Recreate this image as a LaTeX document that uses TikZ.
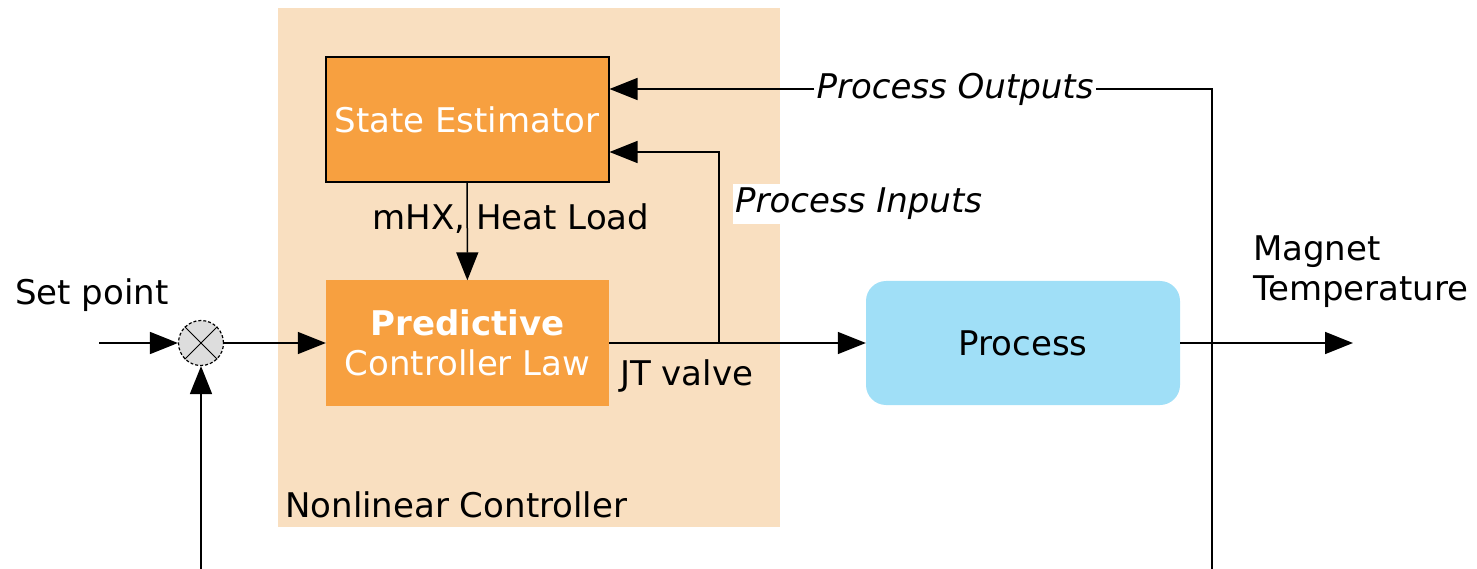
\documentclass[tikz,border=0pt]{standalone}
\usepackage{fontspec}
\setmainfont{DejaVu Sans}
\usetikzlibrary{arrows.meta,calc}
\definecolor{peach}{RGB}{249,223,192}
\definecolor{orng}{RGB}{247,160,64}
\definecolor{lblue}{RGB}{160,223,247}
\definecolor{jgray}{RGB}{221,221,221}
\newcommand{\dfont}{\fontsize{34}{40}\selectfont}
\begin{document}
\begin{tikzpicture}[x=1pt,y=-1pt,
  every node/.style={font=\dfont, inner sep=0pt},
  arr/.style={-{Triangle[length=28pt,width=22pt]}, line width=1.5pt},
  ln/.style={line width=1.5pt},
  blk/.style={fill=orng, text=white, minimum width=283pt, minimum height=125pt, align=center},
  itl/.style={font=\dfont\itshape},
]
\useasboundingbox (0,0) rectangle (1477,569);
% controller background
\fill[peach] (278,8) rectangle (780,527);
\node[anchor=west] (nlc) at (285,505) {Nonlinear Controller};
% blocks
\node[blk, draw=black, line width=2pt] (se) at (467,119.5) {State Estimator};
\node[blk] (pc) at (467.5,343) {\textbf{Predictive}\\Controller Law};
\node[fill=lblue, rounded corners=20pt, minimum width=314pt, minimum height=124pt] (proc) at (1023,343) {Process};
% summing junction
\node[circle, draw=black, fill=jgray, minimum size=45pt, line width=1.2pt, densely dashed] (j) at (201,343) {};
\draw[line width=1pt] (j.north west) -- (j.south east) (j.north east) -- (j.south west);
% labels
\node (sp) at (92,295) {Set point};
\node (mhx) at (511,219) {mHX, Heat Load};
\node[anchor=west] (jt) at (620,376) {JT valve};
\node[anchor=west, align=left] (mt) at (1253,272) {Magnet\\Temperature};
\node[itl, inner sep=2pt] (po) at (955,89) {Process Outputs};
\node[itl, anchor=west, fill=white, inner xsep=2pt, minimum height=40pt] (pi) at (733,204) {Process Inputs};
% coordinates
\coordinate (in) at (99,343);
\coordinate (out) at (1353,343);
\coordinate (fbR) at (1212,569);
\coordinate (fbL) at (201,569);
\coordinate (tap) at (719,343);
\coordinate (tap2) at (719,152);
% connectors
\draw[arr] (in) -- (j);
\draw[arr] (j) -- (pc);
\draw[arr] (fbL) -- (j.south);
\draw[arr] (se) -- (pc);
\draw[arr] (pc) -- (proc);
\draw[arr] (proc) -- (out);
\draw[ln] (fbR) |- (po.east);
\draw[arr] (po.west) -- (po.west -| se.east);
\draw[arr] (tap) -- (tap2) -- (tap2 -| se.east);
\end{tikzpicture}
\end{document}
